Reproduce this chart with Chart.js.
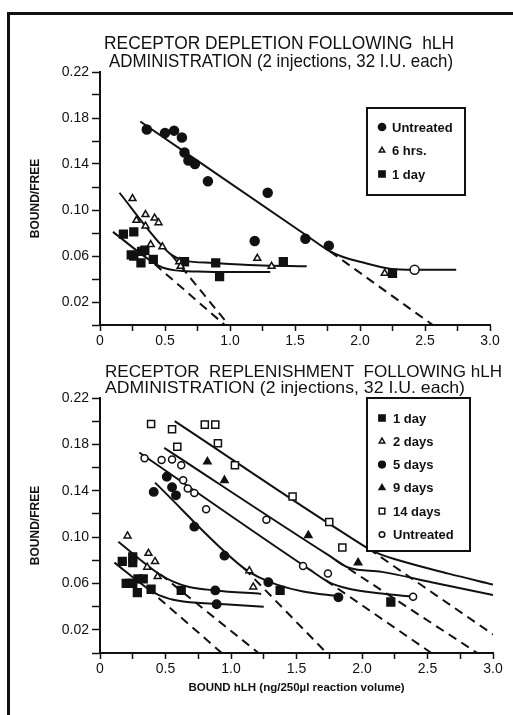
<!DOCTYPE html>
<html>
<head>
<meta charset="utf-8">
<title>Receptor depletion and replenishment following hLH</title>
<script src="https://cdn.jsdelivr.net/npm/chart.js@4.4.1/dist/chart.umd.min.js"></script>
<style>
  body { margin: 0; background: #fff; }
  #page { position: relative; width: 513px; height: 715px; overflow: hidden; background: #fff; }
  #frame { position: absolute; left: 7px; top: 12px; right: -10px; bottom: -10px;
           border-left: 3px solid #111; border-top: 3px solid #111; }
  canvas { position: absolute; left: 0; }
  #depletion { top: 0; }
  #replenishment { top: 352px; }
</style>
</head>
<body>
<div id="page">
  <canvas id="depletion" width="513" height="352"></canvas>
  <canvas id="replenishment" width="513" height="363"></canvas>
  <div id="frame"></div>
</div>
<script>
// axes
const xTickValues = [0, 0.25, 0.5, 0.75, 1.0, 1.25, 1.5, 1.75, 2.0, 2.25, 2.5, 2.75, 3.0];
const xTickLabels = ['0', '', '0.5', '', '1.0', '', '1.5', '', '2.0', '', '2.5', '', '3.0'];
const yTickValues = [0, 0.02, 0.04, 0.06, 0.08, 0.10, 0.12, 0.14, 0.16, 0.18, 0.20, 0.22];
const yTickLabels = ['', '0.02', '', '0.06', '', '0.10', '', '0.14', '', '0.18', '', '0.22'];

// top panel: receptor depletion
const depUntreatedX = [0.36, 0.50, 0.57, 0.63, 0.65, 0.68, 0.73, 0.83, 1.29, 1.19, 1.58, 1.76, 2.42];
const depUntreatedY = [0.170, 0.167, 0.169, 0.163, 0.150, 0.143, 0.140, 0.125, 0.115, 0.073, 0.075, 0.069, 0.048];
const dep6hX = [0.25, 0.28, 0.35, 0.35, 0.42, 0.45, 0.39, 0.48, 0.61, 0.62, 1.21, 1.32, 2.19];
const dep6hY = [0.110, 0.091, 0.096, 0.086, 0.093, 0.089, 0.070, 0.068, 0.055, 0.051, 0.058, 0.051, 0.045];
const dep1dX = [0.18, 0.26, 0.24, 0.26, 0.32, 0.345, 0.315, 0.41, 0.65, 0.89, 0.92, 1.41, 2.25];
const dep1dY = [0.079, 0.081, 0.061, 0.060, 0.064, 0.065, 0.054, 0.057, 0.055, 0.054, 0.042, 0.055, 0.045];

const depUntFitX = [0.31, 1.60, 1.77, 1.90, 2.00, 2.23, 2.42, 2.74];
const depUntFitY = [0.177, 0.077, 0.064, 0.058, 0.055, 0.049, 0.048, 0.048];
const depUntDashX = [1.77, 2.56];
const depUntDashY = [0.064, 0];
const dep6hFitX = [0.15, 0.46, 0.55, 0.65, 0.87, 1.20, 1.59];
const dep6hFitY = [0.115, 0.071, 0.061, 0.056, 0.054, 0.052, 0.051];
const dep6hDashX = [0.55, 0.99];
const dep6hDashY = [0.061, 0];
const dep1dFitX = [0.10, 0.40, 0.48, 0.58, 0.75, 1.00, 1.31];
const dep1dFitY = [0.081, 0.055, 0.050, 0.0475, 0.0465, 0.046, 0.046];
const dep1dDashX = [0.42, 0.96];
const dep1dDashY = [0.053, 0];

// bottom panel: receptor replenishment
const rep1dX = [0.17, 0.25, 0.25, 0.20, 0.23, 0.25, 0.29, 0.33, 0.285, 0.39, 0.62, 1.375, 2.22];
const rep1dY = [0.079, 0.083, 0.078, 0.060, 0.060, 0.060, 0.064, 0.064, 0.052, 0.055, 0.054, 0.054, 0.044];
const rep2dX = [0.21, 0.37, 0.42, 0.36, 0.44, 1.14, 1.17];
const rep2dY = [0.101, 0.086, 0.079, 0.074, 0.066, 0.071, 0.057];
const rep5dX = [0.41, 0.51, 0.55, 0.58, 0.72, 0.95, 1.285, 0.88, 0.89, 1.82];
const rep5dY = [0.139, 0.152, 0.143, 0.136, 0.109, 0.084, 0.061, 0.054, 0.042, 0.048];
const rep9dX = [0.82, 0.95, 1.59, 1.97];
const rep9dY = [0.165, 0.149, 0.1015, 0.078];
const rep14dX = [0.39, 0.55, 0.59, 0.80, 0.88, 0.90, 1.03, 1.47, 1.75, 1.85];
const rep14dY = [0.1975, 0.193, 0.178, 0.197, 0.197, 0.181, 0.162, 0.135, 0.113, 0.091];
const repUntreatedX = [0.34, 0.47, 0.55, 0.62, 0.635, 0.67, 0.72, 0.81, 1.27, 1.55, 1.74, 2.39];
const repUntreatedY = [0.168, 0.1665, 0.167, 0.162, 0.149, 0.142, 0.138, 0.124, 0.115, 0.075, 0.0685, 0.0485];

const rep1dFitX = [0.11, 0.36, 0.45, 0.60, 0.89, 1.25];
const rep1dFitY = [0.078, 0.056, 0.050, 0.045, 0.0425, 0.040];
const rep1dDashX = [0.36, 0.93];
const rep1dDashY = [0.056, 0];
const rep2dFitX = [0.14, 0.44, 0.55, 0.68, 0.88, 1.23];
const rep2dFitY = [0.096, 0.069, 0.062, 0.057, 0.054, 0.051];
const rep2dDashX = [0.46, 1.21];
const rep2dDashY = [0.068, 0];
const rep5dFitX = [0.42, 1.10, 1.22, 1.35, 1.55, 1.82];
const rep5dFitY = [0.147, 0.073, 0.065, 0.059, 0.053, 0.049];
const rep5dDashX = [1.10, 1.73];
const rep5dDashY = [0.073, 0];
const repUntFitX = [0.30, 1.60, 1.75, 1.90, 2.15, 2.39];
const repUntFitY = [0.173, 0.072, 0.061, 0.0555, 0.0513, 0.0485];
const repUntDashX = [1.72, 2.53];
const repUntDashY = [0.063, 0];
const rep9dFitX = [0.49, 1.75, 1.90, 2.15, 2.53, 3.0];
const rep9dFitY = [0.177, 0.084, 0.0735, 0.070, 0.061, 0.050];
const rep9dDashX = [1.80, 2.88];
const rep9dDashY = [0.080, 0];
const rep14dFitX = [0.57, 1.95, 2.10, 2.28, 2.66, 3.0];
const rep14dFitY = [0.200, 0.097, 0.087, 0.080, 0.0685, 0.059];
const rep14dDashX = [2.05, 3.0];
const rep14dDashY = [0.090, 0.016];

const ink = '#111';
const FONT = '"Liberation Sans", Arial, sans-serif';

function pts(xs, ys) {
  return xs.map((x, i) => ({ x: x, y: ys[i] }));
}

function marks(label, xs, ys, style, radius, filled) {
  return {
    label: label,
    data: pts(xs, ys),
    showLine: false,
    pointStyle: style,
    pointRadius: radius,
    pointBorderWidth: 1.5,
    pointBorderColor: ink,
    pointBackgroundColor: filled ? ink : '#fff'
  };
}

function fit(xs, ys, dashed) {
  return {
    label: '',
    data: pts(xs, ys),
    showLine: true,
    pointRadius: 0,
    borderColor: ink,
    borderWidth: 2,
    borderDash: dashed ? [9, 6] : [],
    cubicInterpolationMode: 'monotone',
    fill: false
  };
}

// titles + boxed legend drawn on the canvas
const figureText = {
  id: 'figureText',
  afterDatasetsDraw(chart, args, opts) {
    const ctx = chart.ctx;
    ctx.save();
    ctx.fillStyle = ink;
    ctx.textAlign = 'left';
    ctx.textBaseline = 'alphabetic';
    opts.title.forEach(line => {
      ctx.font = line.size + 'px ' + FONT;
      const w = ctx.measureText(line.text).width;
      ctx.save();
      ctx.translate(line.x, line.y);
      ctx.scale(line.width / w, 1);
      ctx.fillText(line.text, 0, 0);
      ctx.restore();
    });

    const L = opts.legend;
    ctx.fillStyle = '#fff';
    ctx.fillRect(L.x, L.y, L.w, L.h);
    ctx.lineWidth = 2;
    ctx.strokeStyle = ink;
    ctx.strokeRect(L.x, L.y, L.w, L.h);
    ctx.font = 'bold 13px ' + FONT;
    ctx.textBaseline = 'middle';
    L.entries.forEach((e, i) => {
      const ds = chart.data.datasets[e.dataset];
      const y = L.y + L.firstRow + i * L.rowGap;
      ctx.fillStyle = Array.isArray(ds.pointBackgroundColor) ? ds.pointBackgroundColor[0] : ds.pointBackgroundColor;
      ctx.strokeStyle = ink;
      ctx.lineWidth = 1.5;
      Chart.helpers.drawPoint(ctx, {
        pointStyle: ds.pointStyle,
        radius: ds.pointRadius * 0.8,
        rotation: 0,
        borderWidth: 1.5
      }, L.markX, y);
      ctx.fillStyle = ink;
      ctx.fillText(e.text, L.textX, y + 1);
    });
    ctx.restore();
  }
};

function axes(bottomHeight, xTitle) {
  return {
    x: {
      type: 'linear',
      min: 0,
      max: 3.0,
      afterBuildTicks: s => { s.ticks = xTickValues.map(v => ({ value: v })); },
      afterFit: s => { s.height = bottomHeight; },
      ticks: {
        autoSkip: false,
        maxRotation: 0,
        padding: 2,
        color: ink,
        font: { family: FONT, size: 14 },
        callback: (v, i) => xTickLabels[i]
      },
      grid: { drawOnChartArea: false, drawTicks: true, tickLength: 6, tickColor: ink, tickWidth: 1.5 },
      border: { color: ink, width: 2 },
      title: xTitle ? {
        display: true,
        text: xTitle,
        color: ink,
        font: { family: FONT, size: 11.5, weight: 'bold' },
        padding: { top: 0, bottom: 20 }
      } : { display: false }
    },
    y: {
      type: 'linear',
      min: 0,
      max: 0.22,
      afterBuildTicks: s => { s.ticks = yTickValues.map(v => ({ value: v })); },
      afterFit: s => { s.width = 100; },
      ticks: {
        autoSkip: false,
        padding: 3,
        color: ink,
        font: { family: FONT, size: 14 },
        callback: (v, i) => yTickLabels[i]
      },
      grid: { drawOnChartArea: false, drawTicks: true, tickLength: 8, tickColor: ink, tickWidth: 1.5 },
      border: { color: ink, width: 2 },
      title: {
        display: true,
        text: 'BOUND/FREE',
        color: ink,
        font: { family: FONT, size: 12, weight: 'bold' },
        padding: { top: 28, bottom: 0 }
      }
    }
  };
}

function baseOptions(padding, bottomHeight, xTitle, textOpts) {
  return {
    responsive: false,
    animation: false,
    devicePixelRatio: 1,
    layout: { padding: padding },
    plugins: {
      legend: { display: false },
      tooltip: { enabled: false },
      figureText: textOpts
    },
    scales: axes(bottomHeight, xTitle)
  };
}

// ---- top chart ----
const depUntreated = marks('Untreated', depUntreatedX, depUntreatedY, 'circle', 4.5, true);
depUntreated.pointBackgroundColor = depUntreatedX.map((x, i) => i === depUntreatedX.length - 1 ? '#fff' : ink);

new Chart(document.getElementById('depletion'), {
  type: 'scatter',
  data: {
    datasets: [
      depUntreated,
      marks('6 hrs.', dep6hX, dep6hY, 'triangle', 4, false),
      marks('1 day', dep1dX, dep1dY, 'rect', 5.5, true),
      fit(depUntFitX, depUntFitY, false),
      fit(depUntDashX, depUntDashY, true),
      fit(dep6hFitX, dep6hFitY, false),
      fit(dep6hDashX, dep6hDashY, true),
      fit(dep1dFitX, dep1dFitY, false),
      fit(dep1dDashX, dep1dDashY, true)
    ]
  },
  options: baseOptions({ left: 0, right: 23, top: 72, bottom: 0 }, 27, null, {
    title: [
      { text: 'RECEPTOR DEPLETION FOLLOWING  hLH', x: 104, y: 49, width: 350, size: 19 },
      { text: 'ADMINISTRATION (2 injections, 32 I.U. each)', x: 109, y: 67, width: 344, size: 19 }
    ],
    legend: {
      x: 367, y: 108, w: 98, h: 87, firstRow: 19, rowGap: 23.5, markX: 382, textX: 392,
      entries: [
        { dataset: 0, text: 'Untreated' },
        { dataset: 1, text: '6 hrs.' },
        { dataset: 2, text: '1 day' }
      ]
    }
  }),
  plugins: [figureText]
});

// ---- bottom chart ----
new Chart(document.getElementById('replenishment'), {
  type: 'scatter',
  data: {
    datasets: [
      marks('1 day', rep1dX, rep1dY, 'rect', 5.5, true),
      marks('2 days', rep2dX, rep2dY, 'triangle', 4, false),
      marks('5 days', rep5dX, rep5dY, 'circle', 4.2, true),
      marks('9 days', rep9dX, rep9dY, 'triangle', 4.2, true),
      marks('14 days', rep14dX, rep14dY, 'rect', 5, false),
      marks('Untreated', repUntreatedX, repUntreatedY, 'circle', 3.5, false),
      fit(rep1dFitX, rep1dFitY, false),
      fit(rep1dDashX, rep1dDashY, true),
      fit(rep2dFitX, rep2dFitY, false),
      fit(rep2dDashX, rep2dDashY, true),
      fit(rep5dFitX, rep5dFitY, false),
      fit(rep5dDashX, rep5dDashY, true),
      fit(repUntFitX, repUntFitY, false),
      fit(repUntDashX, repUntDashY, true),
      fit(rep9dFitX, rep9dFitY, false),
      fit(rep9dDashX, rep9dDashY, true),
      fit(rep14dFitX, rep14dFitY, false),
      fit(rep14dDashX, rep14dDashY, true)
    ]
  },
  options: baseOptions({ left: 0, right: 20, top: 46, bottom: 0 }, 62, 'BOUND hLH (ng/250\u00b5l reaction volume)', {
    title: [
      { text: 'RECEPTOR  REPLENISHMENT  FOLLOWING hLH', x: 105, y: 25, width: 397, size: 16.5 },
      { text: 'ADMINISTRATION (2 injections, 32 I.U. each)', x: 105, y: 41, width: 360, size: 16.5 }
    ],
    legend: {
      x: 367, y: 46, w: 103, h: 153, firstRow: 20, rowGap: 23.3, markX: 382, textX: 393,
      entries: [
        { dataset: 0, text: '1 day' },
        { dataset: 1, text: '2 days' },
        { dataset: 2, text: '5 days' },
        { dataset: 3, text: '9 days' },
        { dataset: 4, text: '14 days' },
        { dataset: 5, text: 'Untreated' }
      ]
    }
  }),
  plugins: [figureText]
});
</script>
</body>
</html>
